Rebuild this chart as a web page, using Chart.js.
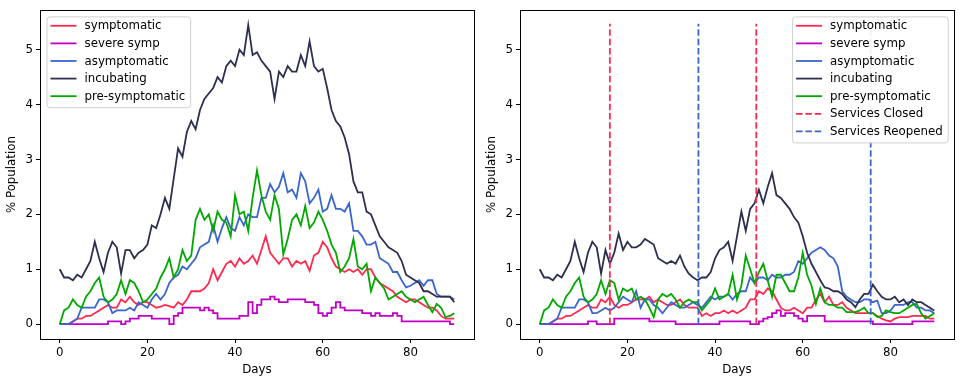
<!DOCTYPE html>
<html>
<head>
<meta charset="utf-8">
<script src="https://cdn.jsdelivr.net/npm/chart.js@4.4.0/dist/chart.umd.min.js"></script>
<style>
  body { margin: 0; background: #fff; }
  .panel { position: absolute; top: 0; width: 480px; height: 384px; }
</style>
</head>
<body>
<div class="panel" style="left:0"><canvas id="left" width="480" height="384"></canvas></div>
<div class="panel" style="left:480px"><canvas id="right" width="480" height="384"></canvas></div>
<script>
// days 0..90
const days = [
  0,1,2,3,4,5,6,7,8,9,10,11,12,13,14,15,16,17,18,19,20,21,22,23,24,25,26,27,28,29,
  30,31,32,33,34,35,36,37,38,39,40,41,42,43,44,45,46,47,48,49,50,51,52,53,54,55,56,57,58,59,
  60,61,62,63,64,65,66,67,68,69,70,71,72,73,74,75,76,77,78,79,80,81,82,83,84,85,86,87,88,89,90
];

const seriesNames = ['symptomatic', 'severe symp', 'asymptomatic', 'incubating', 'pre-symptomatic'];
const seriesColors = ['#ff2a4f', '#c000c6', '#3a66cc', '#2e2e50', '#00a800'];

const xTicks = [0, 20, 40, 60, 80];
const yTicks = [0, 1, 2, 3, 4, 5];

// left panel (no intervention)
const leftSym = [
  0, 0, 0, 0.05, 0.1, 0.1, 0.15, 0.15, 0.2, 0.25,
  0.3, 0.35, 0.3, 0.3, 0.45, 0.4, 0.5, 0.4, 0.35, 0.4,
  0.4, 0.35, 0.3, 0.32, 0.35, 0.33, 0.3, 0.4, 0.35, 0.45,
  0.6, 0.6, 0.6, 0.65, 0.75, 1.0, 0.8, 0.95, 1.1, 1.15,
  1.05, 1.2, 1.1, 1.15, 1.25, 1.1, 1.35, 1.6, 1.3, 1.2,
  1.1, 1.2, 1.2, 1.05, 1.15, 1.1, 1.15, 0.97, 1.25, 1.3,
  1.5, 1.4, 1.2, 1.05, 1.0, 0.95, 1.0, 0.95, 1.0, 0.9,
  1.0, 1.0, 0.85, 0.75, 0.7, 0.65, 0.6, 0.5, 0.45, 0.4,
  0.45, 0.45, 0.4, 0.35, 0.3, 0.3, 0.25, 0.15, 0.1, 0.1,
  0.1
];
const leftSevere = [
  0, 0, 0, 0, 0, 0, 0, 0, 0, 0,
  0, 0.05, 0.05, 0.05, 0, 0.05, 0.1, 0.1, 0.15, 0.15,
  0.15, 0.1, 0.1, 0.1, 0.1, 0, 0.15, 0.2, 0.3, 0.3,
  0.3, 0.3, 0.25, 0.3, 0.25, 0.2, 0.1, 0.1, 0.1, 0.1,
  0.1, 0.15, 0.15, 0.4, 0.2, 0.35, 0.45, 0.45, 0.5, 0.45,
  0.4, 0.4, 0.45, 0.45, 0.45, 0.45, 0.4, 0.4, 0.35, 0.2,
  0.15, 0.2, 0.3, 0.4, 0.3, 0.25, 0.25, 0.25, 0.25, 0.2,
  0.2, 0.15, 0.2, 0.15, 0.15, 0.15, 0.2, 0.15, 0.05, 0.05,
  0.05, 0.05, 0.05, 0.05, 0.05, 0.05, 0.05, 0.05, 0.05, 0,
  0
];
const leftAsym = [
  0, 0, 0, 0.05, 0.1, 0.3, 0.3, 0.3, 0.3, 0.45,
  0.45, 0.4, 0.2, 0.25, 0.25, 0.25, 0.3, 0.25, 0.4, 0.35,
  0.3, 0.45, 0.55, 0.45, 0.55, 0.75, 0.85, 0.9, 1.05, 1.0,
  1.1, 1.2, 1.4, 1.45, 1.5, 1.8, 1.5, 1.75, 1.95, 1.75,
  1.7, 1.95, 1.8, 2.0, 1.95, 1.95, 2.3, 2.3, 2.55, 2.4,
  2.5, 2.75, 2.4, 2.45, 2.3, 2.75, 2.6, 2.2, 2.3, 2.45,
  2.05, 2.1, 2.35, 2.1, 2.1, 2.05, 2.2, 1.7, 1.7, 1.6,
  1.45, 1.45, 1.5, 1.2, 1.15, 1.1, 0.95, 0.95, 0.8, 0.67,
  0.7, 0.75, 0.8, 0.7, 0.8, 0.8, 0.55, 0.5, 0.5, 0.5,
  0.45
];
const leftIncub = [
  1.0, 0.85, 0.85, 0.8, 0.9, 0.85, 1.0, 1.15, 1.5, 1.2,
  0.95, 1.3, 1.5, 1.4, 0.92, 1.35, 1.35, 1.2, 1.3, 1.35,
  1.45, 1.8, 1.75, 2.0, 2.3, 2.1, 2.65, 3.2, 3.05, 3.5,
  3.7, 3.55, 3.9, 4.1, 4.2, 4.3, 4.5, 4.4, 4.7, 4.8,
  4.7, 5.0, 4.9, 5.45, 4.9, 4.95, 4.8, 4.7, 4.6, 4.1,
  4.6, 4.5, 4.7, 4.6, 4.6, 4.9, 4.7, 5.15, 4.7, 4.6,
  4.65, 4.3, 3.9, 3.7, 3.6, 3.4, 3.1, 2.6, 2.4, 2.4,
  2.05, 2.0, 1.8, 1.6, 1.5, 1.4, 1.35, 1.3, 1.15, 0.9,
  0.85, 0.8, 0.75, 0.6, 0.6, 0.55, 0.5, 0.5, 0.5, 0.5,
  0.4
];
const leftPre = [
  0, 0.25, 0.3, 0.45, 0.35, 0.3, 0.5, 0.6, 0.75, 0.85,
  0.5, 0.4, 0.45, 0.55, 0.8, 0.55, 0.8, 0.75, 0.6, 0.4,
  0.45, 0.55, 0.65, 0.85, 1.0, 1.2, 0.85, 1.0, 1.35, 1.15,
  1.25, 1.9, 2.1, 1.9, 2.0, 1.7, 2.05, 1.9, 1.85, 1.6,
  2.35, 2.0, 2.05, 1.7, 2.3, 2.8, 2.35, 2.05, 1.9, 2.35,
  2.1, 1.27, 1.55, 1.9, 2.0, 1.8, 2.15, 1.75, 1.85, 2.05,
  1.9, 1.7, 1.45, 1.3, 0.95, 1.05, 1.2, 1.55, 1.05, 1.0,
  1.1, 0.6, 0.85, 0.75, 0.65, 0.45, 0.5, 0.55, 0.6, 0.5,
  0.45, 0.4, 0.45, 0.5, 0.35, 0.22, 0.37, 0.3, 0.13, 0.15,
  0.2
];

// right panel (services closed / reopened)
const rightSym = [
  0, 0, 0, 0.05, 0.1, 0.1, 0.15, 0.15, 0.2, 0.25,
  0.3, 0.35, 0.3, 0.3, 0.45, 0.4, 0.5, 0.35, 0.3, 0.35,
  0.35, 0.4, 0.45, 0.45, 0.45, 0.5, 0.4, 0.45, 0.4, 0.35,
  0.35, 0.4, 0.45, 0.35, 0.3, 0.3, 0.3, 0.15, 0.2, 0.15,
  0.2, 0.2, 0.25, 0.2, 0.25, 0.2, 0.25, 0.3, 0.45, 0.45,
  0.6, 0.55, 0.65, 0.6, 0.45, 0.3, 0.25, 0.25, 0.3, 0.25,
  0.2, 0.3, 0.3, 0.45, 0.55, 0.4, 0.5, 0.35, 0.35, 0.4,
  0.3, 0.25, 0.2, 0.2, 0.2, 0.2, 0.2, 0.15, 0.1, 0.07,
  0.05, 0.1, 0.13, 0.13, 0.13, 0.15, 0.15, 0.15, 0.15, 0.1,
  0.1
];
const rightSevere = [
  0, 0, 0, 0, 0, 0, 0, 0, 0, 0,
  0, 0.05, 0.05, 0, 0, 0, 0, 0.1, 0.1, 0.1,
  0.1, 0.1, 0.1, 0.1, 0.1, 0.05, 0.05, 0.05, 0.05, 0.05,
  0.05, 0, 0, 0, 0, 0, 0, 0, 0, 0,
  0, 0.05, 0.05, 0.05, 0.05, 0.05, 0.05, 0.05, 0, 0,
  0.05, 0.1, 0.13, 0.2, 0.25, 0.15, 0.2, 0.2, 0.15, 0.1,
  0.05, 0.15, 0.15, 0.15, 0.15, 0.05, 0.05, 0.05, 0.05, 0.05,
  0.05, 0.05, 0.05, 0.05, 0.05, 0.05, 0, 0, 0, 0,
  0, 0, 0, 0, 0, 0.05, 0.05, 0.05, 0.05, 0.05,
  0.05
];
const rightAsym = [
  0, 0, 0, 0.05, 0.1, 0.3, 0.3, 0.3, 0.3, 0.45,
  0.45, 0.4, 0.2, 0.2, 0.25, 0.3, 0.25, 0.3, 0.4, 0.5,
  0.45, 0.4, 0.6, 0.3, 0.45, 0.45, 0.35, 0.3, 0.2, 0.3,
  0.4, 0.35, 0.3, 0.3, 0.35, 0.4, 0.35, 0.3, 0.4, 0.5,
  0.45, 0.5, 0.5, 0.55, 0.45, 0.55, 0.6, 0.6, 0.85, 0.75,
  0.85, 0.85, 0.8, 0.9, 0.85, 0.85, 0.9, 0.9, 0.95, 1.15,
  1.1, 1.2, 1.3, 1.35, 1.4, 1.35, 1.25, 1.2, 1.05, 0.6,
  0.5, 0.45, 0.4, 0.4, 0.45, 0.45, 0.4, 0.43, 0.2, 0.2,
  0.25, 0.35, 0.35, 0.35, 0.4, 0.4, 0.3, 0.3, 0.25, 0.25,
  0.2
];
const rightIncub = [
  1.0, 0.85, 0.85, 0.8, 0.9, 0.85, 1.0, 1.15, 1.5, 1.2,
  0.95, 1.3, 1.5, 1.4, 0.92, 1.35, 1.1, 1.3, 1.65, 1.35,
  1.5, 1.4, 1.4, 1.45, 1.55, 1.5, 1.45, 1.2, 1.15, 1.1,
  1.15, 1.1, 1.25, 1.05, 0.92, 0.85, 0.8, 0.85, 0.85, 0.95,
  1.2, 1.35, 1.4, 1.5, 1.15, 1.6, 2.05, 1.7, 2.1, 2.2,
  2.45, 2.2, 2.5, 2.75, 2.35, 2.3, 2.2, 2.1, 1.95, 1.85,
  1.6, 1.3, 1.1, 0.95, 0.8, 0.67, 0.65, 0.6, 0.6, 0.55,
  0.45, 0.4, 0.31, 0.45, 0.55, 0.55, 0.72, 0.6, 0.5, 0.45,
  0.45, 0.5, 0.4, 0.45, 0.35, 0.45, 0.4, 0.4, 0.35, 0.3,
  0.25
];
const rightPre = [
  0, 0.25, 0.3, 0.45, 0.35, 0.3, 0.5, 0.6, 0.75, 0.85,
  0.5, 0.4, 0.45, 0.55, 0.8, 0.55, 0.8, 0.75, 0.45, 0.65,
  0.6, 0.65, 0.45, 0.5, 0.45, 0.3, 0.13, 0.45, 0.55, 0.5,
  0.55, 0.45, 0.3, 0.4, 0.45, 0.4, 0.4, 0.25, 0.35, 0.45,
  0.65, 0.45, 0.5, 0.55, 0.9, 0.45, 0.7, 1.25, 1.0, 0.75,
  0.95, 1.1, 0.8, 0.5, 0.9, 0.9, 0.75, 0.6, 0.6, 0.85,
  1.3, 0.9, 0.7, 0.37, 0.65, 0.4, 0.35, 0.35, 0.3, 0.3,
  0.22, 0.22, 0.22, 0.25, 0.3, 0.2, 0.2, 0.13, 0.15, 0.25,
  0.22, 0.2, 0.2, 0.25, 0.3, 0.35, 0.37, 0.2, 0.1, 0.15,
  0.2
];

// interventions (right panel)
const closedDays = [16, 49.4];
const reopenedDays = [36.2, 75.5];
const markerTop = 5.47;

const FONT = 'DejaVu Sans';
const FS = 11.8;
const LW = 1.8;

function seriesSets(arrays) {
  return arrays.map((arr, i) => ({
    label: seriesNames[i],
    data: days.map((d, k) => ({ x: d, y: arr[k] })),
    borderColor: seriesColors[i],
    backgroundColor: seriesColors[i],
    borderWidth: LW,
    pointRadius: 0,
    tension: 0,
    stepped: i === 1,
    order: 10 - i
  }));
}

function markerSets(xs, label, color) {
  return xs.map((x, j) => ({
    label: label,
    inLegend: j === 0,
    data: [{ x: x, y: 0 }, { x: x, y: markerTop }],
    borderColor: color,
    backgroundColor: color,
    borderWidth: LW,
    borderDash: [6.5, 2.8],
    pointRadius: 0,
    order: 0
  }));
}

// draws the axes frame and a matplotlib-style legend inside the plot
const boxPlugin = {
  id: 'boxLegend',
  afterDraw(chart, args, opts) {
    const ctx = chart.ctx;
    const a = chart.chartArea;
    const items = chart.data.datasets.filter(d => d.inLegend !== false);
    ctx.save();
    ctx.font = FS + 'px "' + FONT + '"';
    let tw = 0;
    items.forEach(it => { tw = Math.max(tw, ctx.measureText(it.label).width); });
    const w = 38 + tw + 5;
    const h = 9.4 + (items.length - 1) * 17.6 + 11;
    const top = a.top + 6.3;
    const left = opts.side === 'right' ? a.right - 6.3 - w : a.left + 6.5;
    ctx.beginPath();
    ctx.roundRect(left + 0.5, top + 0.5, w, h, 3);
    ctx.fillStyle = 'rgba(255,255,255,0.92)';
    ctx.fill();
    ctx.strokeStyle = '#d0d0d0';
    ctx.lineWidth = 1;
    ctx.stroke();
    items.forEach((it, i) => {
      const y = top + 9.4 + i * 17.6;
      ctx.beginPath();
      ctx.setLineDash(it.borderDash || []);
      ctx.strokeStyle = it.borderColor;
      ctx.lineWidth = LW;
      ctx.moveTo(left + 4, y);
      ctx.lineTo(left + 30, y);
      ctx.stroke();
      ctx.setLineDash([]);
      ctx.fillStyle = '#000';
      ctx.textBaseline = 'middle';
      ctx.fillText(it.label, left + 38, y + 0.5);
    });
    ctx.strokeStyle = '#000';
    ctx.lineWidth = 1;
    ctx.strokeRect(Math.round(a.left) + 0.5, Math.round(a.top) + 0.5,
      Math.round(a.right - a.left), Math.round(a.bottom - a.top));
    ctx.restore();
  }
};

function makeConfig(datasets, side) {
  return {
    type: 'line',
    data: { datasets: datasets },
    options: {
      responsive: false,
      animation: false,
      devicePixelRatio: 1,
      layout: { padding: { left: 0, top: 6, right: 6, bottom: 0 } },
      plugins: {
        legend: { display: false },
        tooltip: { enabled: false },
        boxLegend: { side: side }
      },
      scales: {
        x: {
          type: 'linear', min: -4.5, max: 94.5,
          afterBuildTicks: s => { s.ticks = xTicks.map(v => ({ value: v })); },
          afterFit: s => { s.height = 45; },
          ticks: { color: '#000', font: { family: FONT, size: FS }, padding: 3, maxRotation: 0 },
          grid: { drawOnChartArea: false, tickLength: 4, color: '#000' },
          border: { display: false },
          title: { display: true, text: 'Days', color: '#000', font: { family: FONT, size: FS }, padding: { top: 0, bottom: 7 } }
        },
        y: {
          type: 'linear', min: -0.27, max: 5.72,
          afterBuildTicks: s => { s.ticks = yTicks.map(v => ({ value: v })); },
          afterFit: s => { s.width = 40; },
          ticks: { color: '#000', font: { family: FONT, size: FS }, padding: 3 },
          grid: { drawOnChartArea: false, tickLength: 4, color: '#000' },
          border: { display: false },
          title: { display: true, text: '% Population', color: '#000', font: { family: FONT, size: FS }, padding: { top: 5, bottom: 0 } }
        }
      }
    },
    plugins: [boxPlugin]
  };
}

const leftChart = new Chart(
  document.getElementById('left'),
  makeConfig(seriesSets([leftSym, leftSevere, leftAsym, leftIncub, leftPre]), 'left')
);

const rightChart = new Chart(
  document.getElementById('right'),
  makeConfig(
    seriesSets([rightSym, rightSevere, rightAsym, rightIncub, rightPre])
      .concat(markerSets(closedDays, 'Services Closed', seriesColors[0]))
      .concat(markerSets(reopenedDays, 'Services Reopened', seriesColors[2])),
    'right'
  )
);
</script>
</body>
</html>
